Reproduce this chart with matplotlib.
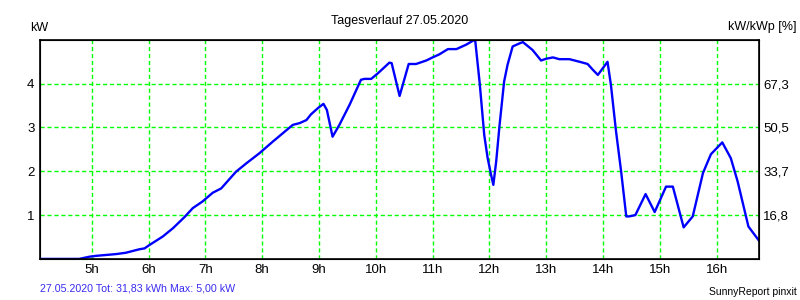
import matplotlib.pyplot as plt

plt.rcParams['font.family'] = ['Liberation Sans', 'DejaVu Sans']

# time of day (h) and power (kW)
hours = [4.09, 4.78, 4.96, 5.08, 5.43, 5.60, 5.84, 5.93, 6.02, 6.25, 6.43, 6.63,
         6.78, 6.95, 7.13, 7.28, 7.54, 7.72, 7.95, 8.19, 8.54, 8.66, 8.78, 8.86,
         8.98, 9.08, 9.14, 9.24, 9.36, 9.54, 9.74, 9.80, 9.92, 10.04, 10.24, 10.28,
         10.42, 10.58, 10.71, 10.89, 11.00, 11.12, 11.27, 11.42, 11.59, 11.71, 11.75,
         11.83, 11.91, 11.97, 12.03, 12.07, 12.12, 12.18, 12.26, 12.32, 12.41, 12.53,
         12.59, 12.76, 12.91, 13.00, 13.12, 13.23, 13.41, 13.59, 13.73, 13.82, 13.91,
         14.08, 14.14, 14.23, 14.32, 14.41, 14.46, 14.57, 14.75, 14.91, 15.11, 15.23,
         15.42, 15.58, 15.76, 15.90, 16.10, 16.25, 16.37, 16.56, 16.75]
power_kw = [0.0, 0.0, 0.05, 0.07, 0.11, 0.14, 0.22, 0.24, 0.32, 0.51, 0.70, 0.95,
            1.16, 1.31, 1.51, 1.61, 1.99, 2.18, 2.41, 2.68, 3.06, 3.10, 3.17, 3.30,
            3.44, 3.54, 3.40, 2.79, 3.06, 3.52, 4.09, 4.11, 4.11, 4.24, 4.48, 4.47,
            3.72, 4.45, 4.45, 4.53, 4.60, 4.67, 4.79, 4.79, 4.89, 4.98, 5.00,
            4.01, 2.83, 2.30, 1.92, 1.69, 2.22, 3.06, 4.05, 4.43, 4.85, 4.92,
            4.95, 4.77, 4.53, 4.57, 4.60, 4.56, 4.56, 4.50, 4.45, 4.32, 4.20,
            4.50, 3.97, 2.91, 1.99, 0.97, 0.97, 1.00, 1.48, 1.07, 1.65, 1.65,
            0.72, 0.97, 1.96, 2.39, 2.66, 2.30, 1.77, 0.74, 0.41]

x_ticks = [5, 6, 7, 8, 9, 10, 11, 12, 13, 14, 15, 16]
x_labels = [f"{h}h" for h in x_ticks]
y_ticks = [1, 2, 3, 4]
pct_labels = ["16,8", "33,7", "50,5", "67,3"]

fig = plt.figure(figsize=(8, 3), dpi=100)
ax = fig.add_axes([0.05, 0.137, 0.899, 0.73])

ax.plot(hours, power_kw, color='#0000ff', linewidth=1.7)
ax.set_xlim(4.09, 16.75)
ax.set_ylim(0, 5)
ax.set_xticks(x_ticks)
ax.set_xticklabels(x_labels)
ax.set_yticks(y_ticks)
ax.set_yticklabels([str(v) for v in y_ticks])
ax.grid(True, color='#00ff00', linestyle=(0, (3, 2)), linewidth=1.0)
ax.tick_params(length=0, labelsize=9.5, pad=4)
for s in ax.spines.values():
    s.set_linewidth(1.2)

ax2 = ax.twinx()
ax2.set_ylim(0, 5)
ax2.set_yticks(y_ticks)
ax2.set_yticklabels(pct_labels)
ax2.tick_params(length=0, labelsize=9.5, pad=3)

fig.text(0.5, 0.93, "Tagesverlauf 27.05.2020", ha='center', va='center', fontsize=9)
fig.text(0.038, 0.907, "kW", ha='left', va='center', fontsize=9)
fig.text(0.996, 0.91, "kW/kWp [%]", ha='right', va='center', fontsize=9)
fig.text(0.05, 0.037, "27.05.2020 Tot: 31,83 kWh Max: 5,00 kW", ha='left', va='center',
         fontsize=7.7, color='#3a2cf0')
fig.text(0.996, 0.027, "SunnyReport pinxit", ha='right', va='center', fontsize=7.5)

fig.savefig('out.png', dpi=100)
